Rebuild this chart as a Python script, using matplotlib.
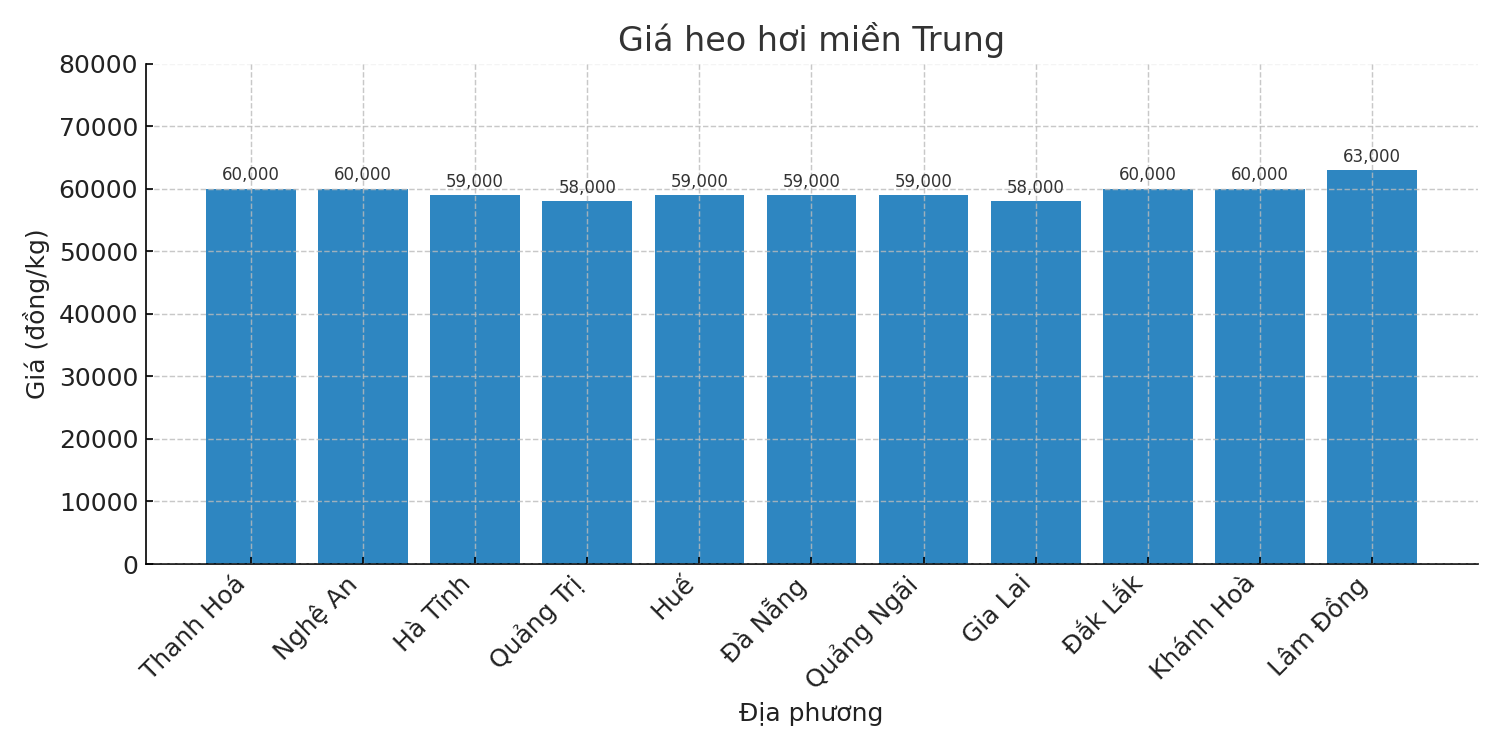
import matplotlib
matplotlib.use("Agg")
import matplotlib.pyplot as plt

provinces = ["Thanh Hoá", "Nghệ An", "Hà Tĩnh", "Quảng Trị", "Huế", "Đà Nẵng",
             "Quảng Ngãi", "Gia Lai", "Đắk Lắk", "Khánh Hoà", "Lâm Đồng"]
prices = [60000, 60000, 59000, 58000, 59000, 59000, 59000, 58000, 60000, 60000, 63000]

plt.rcParams['font.family'] = ['DejaVu Sans']

fig, ax = plt.subplots(figsize=(10, 5), dpi=150)
bars = ax.bar(range(len(provinces)), prices, color='#2e86c1', width=0.8)

for b, v in zip(bars, prices):
    ax.text(b.get_x() + b.get_width() / 2, v + 700, f"{v:,}",
            ha='center', va='bottom', fontsize=8, color='#333333')

ax.set_title("Giá heo hơi miền Trung", fontsize=16, color='#333333')
ax.set_xlabel("Địa phương", fontsize=12, color='#222222')
ax.set_ylabel("Giá (đồng/kg)", fontsize=12, color='#222222')
ax.set_xticks(range(len(provinces)))
ax.set_xticklabels(provinces, rotation=45, ha='right', fontsize=12, color='#222222')
ax.set_ylim(0, 80000)
ax.set_yticks(range(0, 80001, 10000))
ax.tick_params(axis='y', labelsize=12, labelcolor='#222222')
ax.tick_params(direction='in')

ax.grid(True, linestyle='--', color='#bbbbbb', linewidth=0.7, alpha=0.8)
# top gridline is barely visible in the original
ax.get_ygridlines()[-1].set_alpha(0.15)
ax.set_axisbelow(False)
ax.spines['top'].set_visible(False)
ax.spines['right'].set_visible(False)

fig.subplots_adjust(left=0.097, right=0.985, top=0.915, bottom=0.248)
fig.savefig("out.png", dpi=150)
